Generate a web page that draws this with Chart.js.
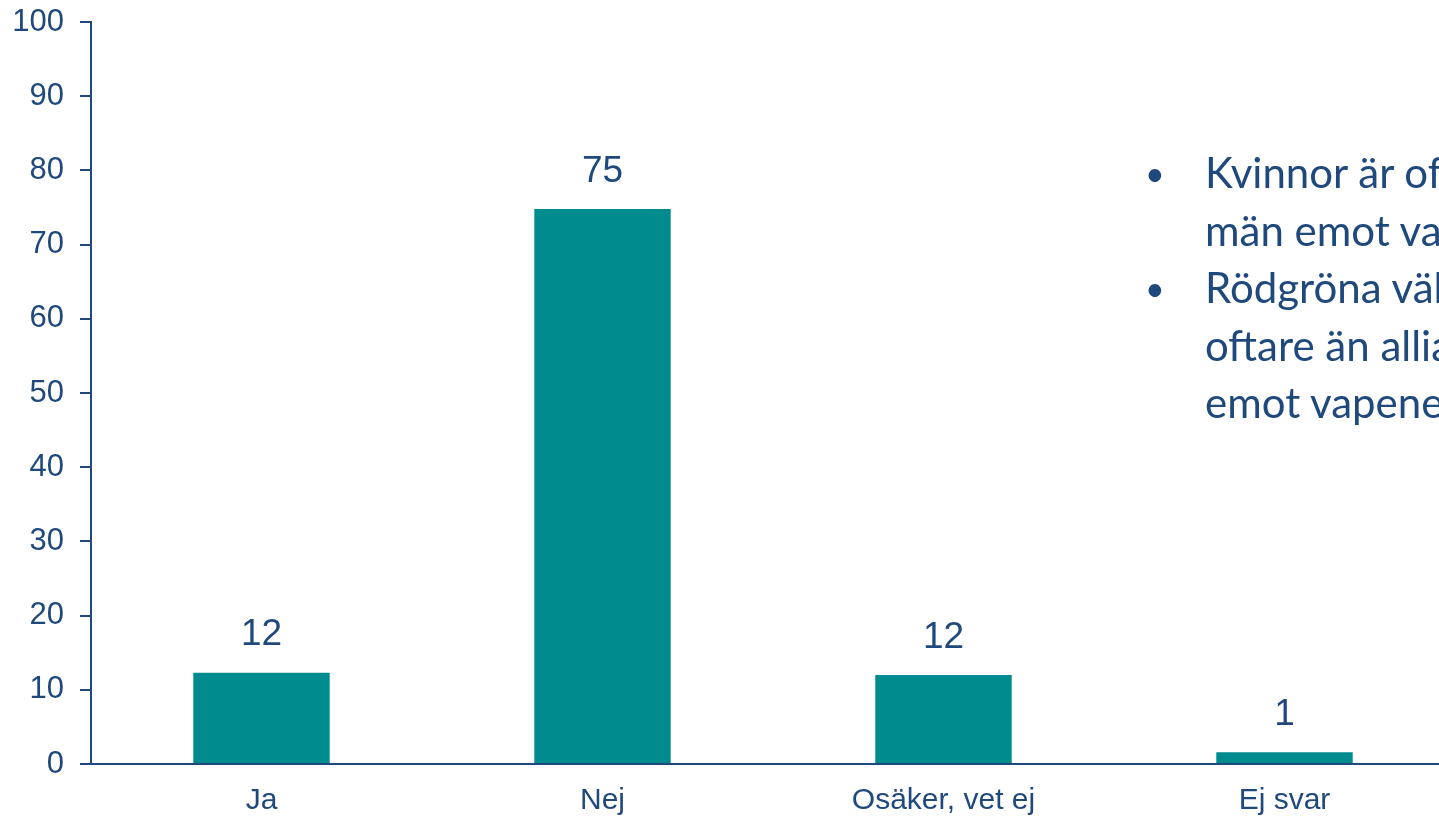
<!DOCTYPE html>
<html>
<head>
<meta charset="utf-8">
<script src="https://cdn.jsdelivr.net/npm/chart.js@4"></script>
<style>
  html, body { margin: 0; padding: 0; background: #fff; overflow: hidden; }
  #wrap { position: relative; width: 1460px; height: 816px; }
  #notes {
    position: absolute; left: 1205px; top: 144px;
    font-family: "Lato", "Open Sans", sans-serif; font-size: 42px; line-height: 57.5px;
    color: #1F497D; white-space: nowrap;
  }
  #notes .item { position: relative; }
  #notes .item::before { content: "\2022"; position: absolute; left: -60px; font-size: 34px; }
</style>
</head>
<body>
<div id="wrap">
  <canvas id="chart" width="1460" height="816"></canvas>
  <div id="notes">
    <div class="item">Kvinnor är oftare än<br>män emot vapenexport</div>
    <div class="item">Rödgröna väljare är<br>oftare än alliansväljare<br>emot vapenexport</div>
  </div>
</div>
<script>
const categories = ["Ja", "Nej", "Osäker, vet ej", "Ej svar"];
const values = [12.3, 74.8, 12.0, 1.6];
const valueLabels = ["12", "75", "12", "1"];
const yTicks = [0, 10, 20, 30, 40, 50, 60, 70, 80, 90, 100];

const navy = "#1F497D";
const teal = "#008B8F";

// draw the numbers above each bar
const barLabels = {
  id: "barLabels",
  afterDatasetsDraw(chart) {
    const ctx = chart.ctx;
    const meta = chart.getDatasetMeta(0);
    ctx.save();
    ctx.fillStyle = navy;
    ctx.font = "37px 'Liberation Sans', Arial, sans-serif";
    ctx.textAlign = "center";
    ctx.textBaseline = "bottom";
    meta.data.forEach((bar, i) => {
      ctx.fillText(valueLabels[i], bar.x, bar.y - 19);
    });
    ctx.restore();
  }
};

new Chart(document.getElementById("chart").getContext("2d"), {
  type: "bar",
  data: {
    labels: categories,
    datasets: [{
      data: values,
      backgroundColor: teal,
      barPercentage: 0.4,
      categoryPercentage: 1.0
    }]
  },
  options: {
    responsive: false,
    animation: false,
    layout: { padding: { top: 22, right: 5, bottom: 0, left: 0 } },
    plugins: { legend: { display: false }, tooltip: { enabled: false } },
    scales: {
      x: {
        grid: { display: false, drawTicks: false },
        border: { display: true, color: navy, width: 2 },
        ticks: {
          color: navy,
          padding: 19,
          font: { family: "'Liberation Sans', Arial, sans-serif", size: 30 }
        },
        afterFit: (s) => { s.height = 52; s.paddingLeft = 0; s.paddingRight = 0; }
      },
      y: {
        min: 0,
        max: 100,
        afterBuildTicks: (s) => { s.ticks = yTicks.map((v) => ({ value: v })); },
        grid: { drawOnChartArea: false, drawTicks: true, tickLength: 11, color: navy, lineWidth: 2 },
        border: { display: true, color: navy, width: 2 },
        ticks: {
          color: navy,
          padding: 16,
          font: { family: "'Liberation Sans', Arial, sans-serif", size: 31 }
        },
        afterFit: (s) => { s.width = 91; s.paddingTop = 0; s.paddingBottom = 0; }
      }
    }
  },
  plugins: [barLabels]
});
</script>
</body>
</html>
